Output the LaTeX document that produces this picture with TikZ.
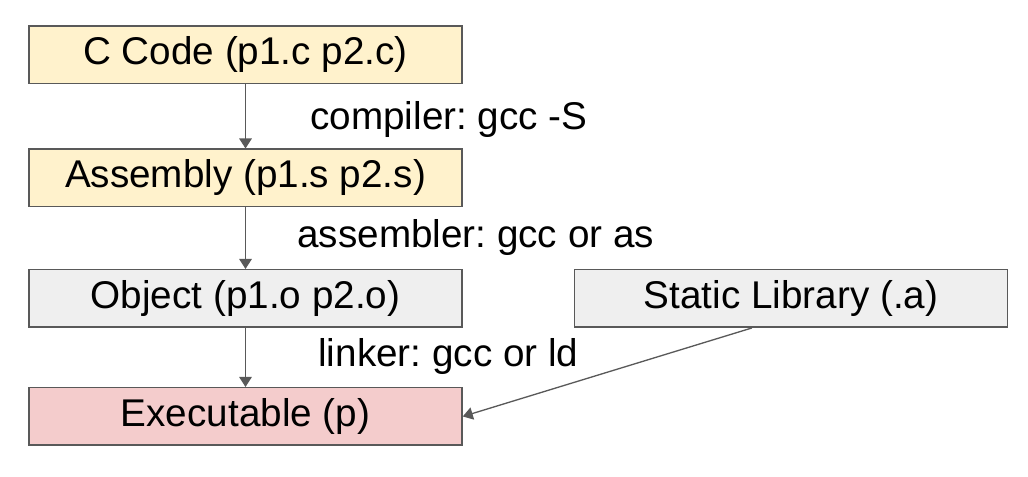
\documentclass[tikz,border=0pt]{standalone}
\usepackage{fontspec}
\setmainfont{Liberation Sans}
\usepackage{tikz}
\usetikzlibrary{arrows.meta, positioning}
\definecolor{stageyellow}{HTML}{FFF2CC}
\definecolor{stagegray}{HTML}{EFEFEF}
\definecolor{stagepink}{HTML}{F4CCCC}
\definecolor{edgegray}{HTML}{595959}
\frenchspacing

\begin{document}
\begin{tikzpicture}[
    stage/.style={rectangle, draw=edgegray, line width=0.85pt,
                  minimum width=8.66cm, minimum height=1.15cm, inner sep=0pt,
                  font=\fontsize{22}{26}\selectfont},
    tool/.style={anchor=west, inner sep=0pt, font=\fontsize{22}{26}\selectfont},
    arr/.style={-{Triangle[length=2mm, width=2.5mm]}, line width=0.75pt, edgegray},
]
\useasboundingbox (0,0) rectangle (20.56,-9.54);

\node[stage, fill=stageyellow] (ccode) at (4.91,-1.1) {C Code (p1.c p2.c)};
\node[stage, fill=stageyellow, below=1.28cm of ccode] (asm) {Assembly (p1.s p2.s)};
\node[stage, fill=stagegray, below=1.23cm of asm] (obj) {Object (p1.o p2.o)};
\node[stage, fill=stagegray, right=2.22cm of obj] (lib) {Static Library (.a)};
\node[stage, fill=stagepink, below=1.18cm of obj] (exe) {Executable (p)};

% tool labels
\node[tool] (cc) at (6.2,-2.4) {compiler: gcc -S};
\node[tool] (as) at (5.94,-4.76) {assembler: gcc or as};
\node[tool] (ld) at (6.36,-7.14) {linker: gcc or ld};

\draw[arr] (ccode) -- (asm);
\draw[arr] (asm) -- (obj);
\draw[arr] (obj) -- (exe);
\draw[arr] (lib.217) -- (exe.east);

\end{tikzpicture}
\end{document}
